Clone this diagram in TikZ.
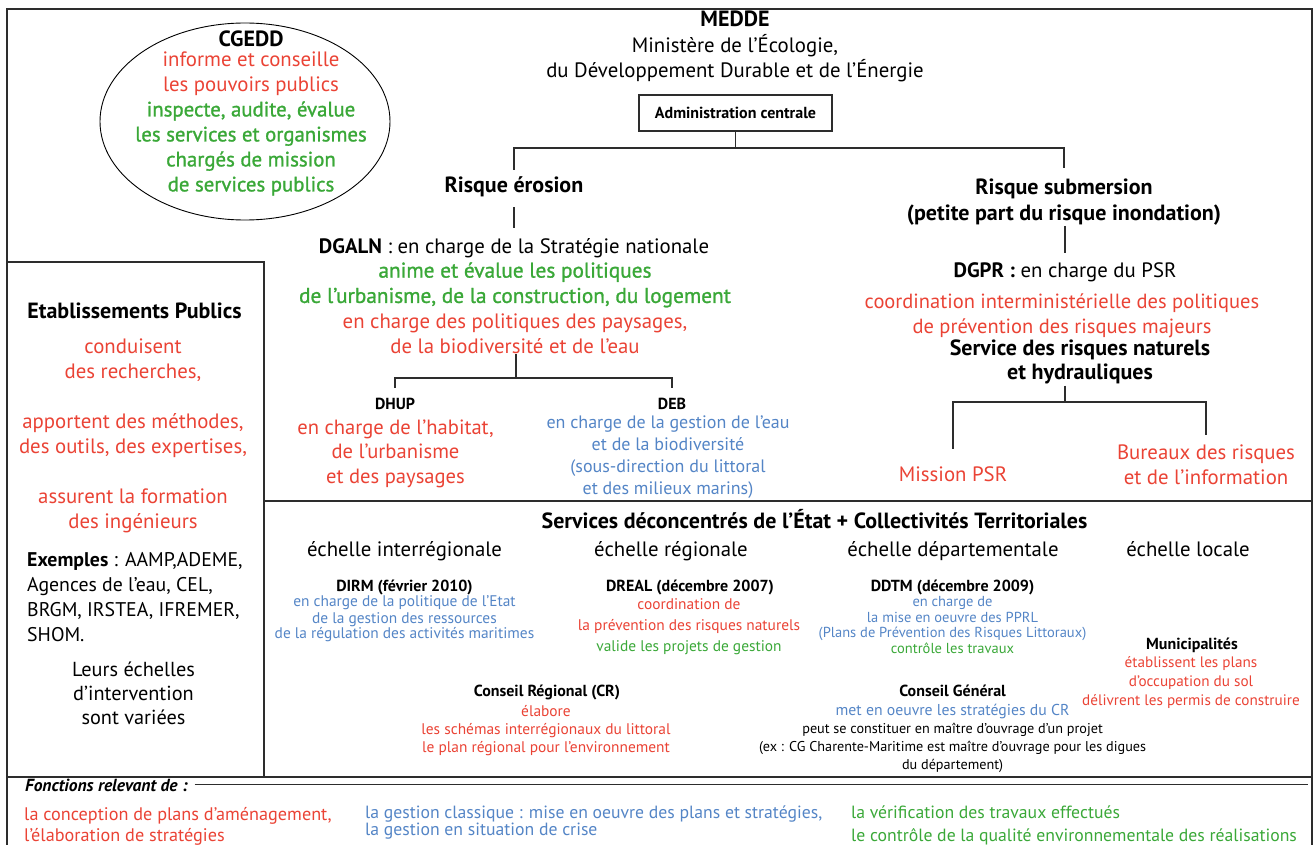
\documentclass[tikz,border=0pt]{standalone}
\usepackage{graphicx}
\usepackage{fontspec}
\setmainfont{PT Sans}
\newfontfamily\semib[FakeBold=1.2]{PT Sans}
\usetikzlibrary{shapes.geometric}
\definecolor{cred}{RGB}{234,67,53}
\definecolor{cgreen}{RGB}{58,168,56}
\definecolor{cblue}{RGB}{84,133,198}
\definecolor{cframe}{RGB}{45,45,45}
\newcommand{\fs}[2]{\fontsize{#1}{#2}\selectfont}
\begin{document}
\begin{tikzpicture}[x=1pt,y=-1pt,
  frame/.style={draw=cframe, line width=1.3pt},
  conn/.style={draw=cframe, line width=1.1pt},
  sl/.style={anchor=base, inner sep=0pt},
  big/.style={font=\fs{20.8}{25}, text height=15.6pt, text depth=5.2pt},
  bigb/.style={font=\fs{22}{26}\bfseries, text height=16.5pt, text depth=5.5pt},
  smb/.style={font=\fs{16}{18}\bfseries, text height=12pt, text depth=4pt},
  ml/.style={anchor=north, inner sep=0pt, align=center},
  leg/.style={anchor=base west, inner sep=0pt, font=\fs{17.7}{20}}
]
\useasboundingbox (0,0) rectangle (1314,845);

% frames
\draw[frame] (7,845) -- (7,9) -- (1312,9) -- (1312,845);
\draw[frame] (7,262) -- (264,262) -- (264,777);
\draw[frame] (264,501) -- (1312,501);
\draw[frame] (7,777) -- (1312,777);

% CGEDD
\node[draw=black, line width=0.9pt, ellipse, minimum width=290pt, minimum height=197pt, inner sep=0pt] (cgeddshape) at (245,121.5) {};
\node[sl, bigb] (cgedd) at (251,46.6) {CGEDD};
\node[ml, font=\fs{20.8}{25}] (cgeddbody) at (251,48.7) {\strut\color{cred}informe et conseille\\ \color{cred}les pouvoirs publics\\ \semib\color{cgreen}inspecte, audite, évalue\\ \semib\color{cgreen}les services et organismes\\ \semib\color{cgreen}chargés de mission\\ \semib\color{cgreen}de services publics};

% MEDDE
\node[sl, bigb] (medde) at (735,26.6) {MEDDE};
\node[sl, big] (minist) at (735,53) {Ministère de l’Écologie,};
\node[sl, big] (dudev) at (735,78) {du Développement Durable et de l’Énergie};
\node[draw=cframe, line width=1.1pt, minimum width=193pt, minimum height=36pt, inner sep=0pt, font=\fs{16}{18}\bfseries] (admin) at (735.5,113) {Administration centrale};

\node[sl, bigb] (erosion) at (514,192.6) {Risque érosion};
\node[ml, font=\fs{22}{26}\bfseries] (subm) at (1064,176.4) {\strut Risque submersion\\(petite part du risque inondation)};

\coordinate (j1) at (735.5,148);
\draw[conn] (admin.south) -- (j1);
\draw[conn, shorten <=6pt, shorten >=8.4pt] (erosion.north) |- (j1) -| (subm.north);

% DGALN
\node[sl, big] (dgaln) at (514,253.3) {\textbf{DGALN} : en charge de la Stratégie nationale};
\draw[conn, shorten <=9pt, shorten >=9.7pt] (erosion.south) -- (erosion.south |- dgaln.north);
\node[ml, font=\fs{20.8}{25.3}] (dgalnbody) at (515,259.7) {\strut\fs{21.3}{25.3}\semib\color{cgreen}anime et évalue les politiques\\ \fs{21.3}{25.3}\semib\color{cgreen}de l’urbanisme, de la construction, du logement\\ \fs{20.8}{25.3}\color{cred}en charge des politiques des paysages,\\ \fs{20.8}{25.3}\color{cred}de la biodiversité et de l’eau};
\coordinate (j2) at (516,378);
\draw[conn] (dgalnbody.south -| j2) -- (j2);
\node[sl, smb] (dhup) at (395,409.8) {DHUP};
\node[sl, smb] (deb) at (672,409.8) {DEB};
\draw[conn, shorten <=9.8pt, shorten >=9.8pt] (dhup.north) |- (j2) -| (deb.north);
\node[ml, font=\fs{20.6}{24.5}, text=cred] (dhupbody) at (395.5,417) {\strut en charge de l’habitat,\\de l’urbanisme\\et des paysages};
\node[ml, font=\fs{18}{22}, text=cblue] (debbody) at (668,413) {\strut en charge de la gestion de l’eau\\et de la biodiversité\\(sous-direction du littoral\\et des milieux marins)};

% DGPR
\node[sl, big] (dgpr) at (1065,277.3) {\textbf{DGPR :} en charge du PSR};
\draw[conn, shorten >=8.7pt] (subm.south -| dgpr.north) -- (dgpr.north);
\node[ml, font=\fs{20.5}{25}, text=cred] (dgprbody) at (1062,290.7) {\strut coordination interministérielle des politiques\\de prévention des risques majeurs};
\node[ml, font=\fs{22}{24}\bfseries] (srnh) at (1080,338.8) {\strut Service des risques naturels\\et hydrauliques};
\coordinate (j3) at (1065,402);
\draw[conn, shorten <=1.2pt] (srnh.south -| j3) -- (j3);
\node[sl, big, text=cred] (mpsr) at (953,481.3) {Mission PSR};
\node[ml, font=\fs{20.8}{25}, text=cred] (bureaux) at (1206,441.7) {\strut Bureaux des risques\\et de l’information};
\draw[conn, shorten <=16.7pt, shorten >=6.7pt] (mpsr.north) |- (j3) -| (bureaux.north);

% Etablissements publics
\node[sl, bigb] (etab) at (134.5,318.6) {Etablissements Publics};
\node[ml, font=\fs{20.8}{25}, text=cred] (etabbody) at (133,335.7) {\strut conduisent\\des recherches,\\[25pt]apportent des méthodes,\\des outils, des expertises,\\[25pt]assurent la formation\\des ingénieurs};
\node[anchor=north west, inner sep=0pt, align=left, font=\fs{19.8}{25}] (exemples) at (27,548.5) {\strut\textbf{Exemples} : AAMP,ADEME,\\Agences de l’eau, CEL,\\BRGM, IRSTEA, IFREMER,\\SHOM.};
\node[ml, font=\fs{20.3}{24}] (leurs) at (133.5,659.2) {\strut Leurs échelles\\d’intervention\\sont variées};

% Services deconcentres
\node[sl, bigb] (serv) at (814.5,528.6) {Services déconcentrés de l’État + Collectivités Territoriales};
\node[sl, big] (sc1) at (404.5,556.2) {échelle interrégionale};
\node[sl, big] (sc2) at (671,556.2) {échelle régionale};
\node[sl, big] (sc3) at (953,556.2) {échelle départementale};
\node[sl, big] (sc4) at (1188,556.2) {échelle locale};

\node[sl, smb] (dirm) at (404.5,591.8) {DIRM (février 2010)};
\node[ml, font=\fs{15.4}{15.5}, text=cblue] (dirmbody) at (404.5,595.7) {\strut en charge de la politique de l’Etat\\de la gestion des ressources\\de la régulation des activités maritimes};

\node[sl, smb] (dreal) at (690,591.8) {DREAL (décembre 2007)};
\node[ml, font=\fs{15.4}{21}] (drealbody) at (689,594.9) {\strut\color{cred}coordination de\\ \color{cred}la prévention des risques naturels\\ \color{cgreen}valide les projets de gestion};

\node[sl, smb] (ddtm) at (952.5,591.8) {DDTM (décembre 2009)};
\node[ml, font=\fs{14.5}{15.7}] (ddtmbody) at (952.5,595.4) {\strut\color{cblue}en charge de\\ \color{cblue}la mise en oeuvre des PPRL\\ \color{cblue}(Plans de Prévention des Risques Littoraux)\\ \color{cgreen}contrôle les travaux};

\node[sl, smb] (munic) at (1192,649.8) {Municipalités};
\node[ml, font=\fs{15.2}{19}, text=cred] (municbody) at (1191,654.3) {\strut établissent les plans\\d’occupation du sol\\délivrent les permis de construire};

\node[sl, smb] (cr) at (547,696.8) {Conseil Régional (CR)};
\node[ml, font=\fs{15.4}{18}, text=cred] (crbody) at (546,704) {\strut élabore\\les schémas interrégionaux du littoral\\le plan régional pour l’environnement};

\node[sl, smb] (cg) at (952.6,696.8) {Conseil Général};
\node[ml, font=\fs{15.75}{18}] (cgbody) at (952.6,703.1) {\strut\color{cblue}met en oeuvre les stratégies du CR\\ \fs{14.2}{18}peut se constituer en maître d’ouvrage d’un projet\\ \fs{14.2}{18}(ex : CG Charente-Maritime est maître d’ouvrage pour les digues\\ \fs{14.2}{18}du département)};

% legend
\node[anchor=base west, inner sep=0pt, font=\fs{17.5}{19}\bfseries\itshape] (fonct) at (25,791) {Fonctions relevant de :};
\coordinate (fend) at (1308,786);
\draw[conn, shorten <=7pt] (fonct.east) -- (fonct.east -| fend);
\node[leg, font=\fs{18.2}{20}, text=cred] (leg1a) at (24,820.3) {la conception de plans d’aménagement,};
\node[leg, font=\fs{18.2}{20}, text=cred] (leg1b) at (24,841) {l’élaboration de stratégies};
\node[leg, text=cblue] (leg2a) at (365,818.3) {la gestion classique : mise en oeuvre des plans et stratégies,};
\node[leg, text=cblue] (leg2b) at (365,835.3) {la gestion en situation de crise};
\node[leg, text=cgreen] (leg3a) at (851,818.3) {la vérification des travaux effectués};
\node[leg, text=cgreen] (leg3b) at (851,841) {le contrôle de la qualité environnementale des réalisations};
\end{tikzpicture}
\end{document}
